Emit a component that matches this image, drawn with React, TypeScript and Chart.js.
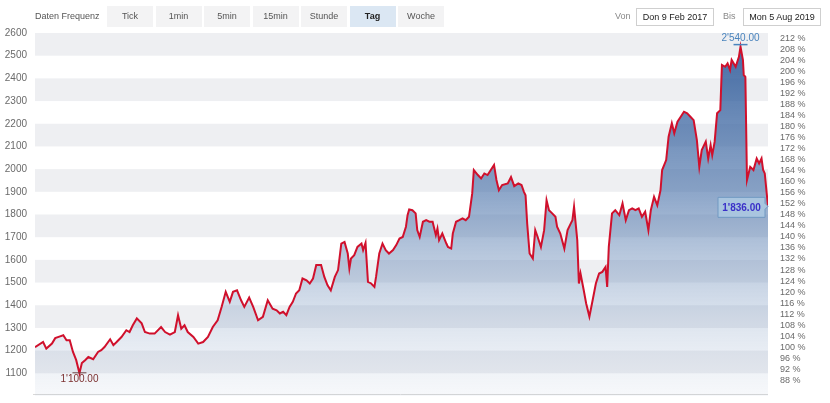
import { useEffect, useRef } from 'react';
import { Chart, registerables } from 'chart.js';

Chart.register(...registerables);

// ---------- data ----------
const frequencies = ['Tick', '1min', '5min', '15min', 'Stunde', 'Tag', 'Woche'];
const activeFrequency = 'Tag';
const fromLabel = 'Von';
const fromDate = 'Don 9 Feb 2017';
const toLabel = 'Bis';
const toDate = 'Mon 5 Aug 2019';
const frequencyLabel = 'Daten Frequenz';

const totalDays = 907; // 9 Feb 2017 -> 5 Aug 2019

const dayOffsets = [
  0, 10, 14, 21, 25, 31, 35, 39, 43, 47, 51, 55, 58, 62, 66, 72, 78, 82, 86, 93,
  97, 101, 107, 113, 117, 121, 126, 132, 136, 142, 148, 156, 161, 167, 173, 177, 181, 185, 189, 196,
  202, 208, 214, 220, 226, 231, 236, 241, 245, 250, 255, 259, 265, 270, 276, 282, 288, 294, 299, 303,
  307, 311, 315, 319, 323, 327, 331, 336, 340, 344, 348, 354, 358, 362, 366, 371, 375, 379, 383, 387,
  389, 391, 395, 399, 404, 406, 409, 412, 416, 420, 422, 426, 430, 434, 438, 443, 447, 451, 455, 459,
  461, 463, 467, 471, 473, 476, 480, 484, 488, 492, 496, 498, 500, 504, 509, 511, 515, 517, 521, 525,
  529, 533, 537, 541, 543, 548, 552, 556, 560, 564, 568, 571, 574, 578, 585, 589, 593, 598, 602, 605,
  607, 609, 612, 616, 619, 622, 626, 630, 633, 636, 640, 644, 646, 650, 655, 659, 663, 665, 667, 671,
  673, 675, 679, 682, 686, 690, 694, 698, 702, 706, 708, 710, 714, 718, 723, 727, 731, 735, 739, 743,
  747, 751, 755, 759, 762, 766, 770, 774, 776, 781, 784, 788, 791, 795, 799, 803, 807, 811, 815, 819,
  822, 825, 830, 833, 836, 838, 841, 844, 848, 850, 854, 857, 860, 862, 867, 871, 873, 876, 877, 879,
  881, 885, 889, 893, 896, 899, 901, 903, 907,
];

const prices = [
  1215, 1238, 1209, 1231, 1255, 1263, 1268, 1246, 1246, 1194, 1158, 1100, 1145, 1158, 1172, 1162, 1194, 1202, 1216, 1250,
  1224, 1238, 1260, 1290, 1282, 1312, 1342, 1320, 1282, 1275, 1275, 1304, 1282, 1271, 1282, 1356, 1297, 1312, 1282, 1260,
  1231, 1238, 1260, 1304, 1334, 1393, 1459, 1415, 1459, 1466, 1422, 1393, 1434, 1393, 1334, 1349, 1422, 1385, 1378, 1364,
  1371, 1356, 1393, 1415, 1452, 1466, 1518, 1510, 1496, 1518, 1577, 1577, 1525, 1488, 1466, 1525, 1555, 1672, 1679, 1628,
  1562, 1606, 1621, 1657, 1672, 1643, 1675, 1503, 1496, 1481, 1525, 1628, 1672, 1643, 1628, 1643, 1665, 1694, 1701, 1746,
  1797, 1822, 1819, 1805, 1731, 1701, 1768, 1775, 1768, 1768, 1709, 1738, 1687, 1716, 1672, 1657, 1650, 1716, 1768, 1775,
  1783, 1775, 1790, 1893, 1996, 1974, 1959, 1981, 1974, 1996, 2018, 1952, 1907, 1930, 1937, 1965, 1925, 1937, 1930, 1900,
  1885, 1761, 1628, 1606, 1731, 1701, 1657, 1731, 1863, 1819, 1805, 1790, 1746, 1716, 1650, 1731, 1761, 1775, 1834, 1687,
  1496, 1540, 1466, 1408, 1350, 1422, 1496, 1540, 1547, 1569, 1481, 1657, 1805, 1819, 1797, 1849, 1775, 1819, 1827, 1819,
  1827, 1790, 1812, 1731, 1819, 1878, 1841, 1907, 1996, 2040, 2143, 2202, 2158, 2209, 2231, 2253, 2246, 2231, 2216, 2128,
  2010, 2084, 2121, 2047, 2106, 2062, 2121, 2246, 2260, 2459, 2451, 2466, 2437, 2481, 2451, 2495, 2540, 2481, 2415, 2407,
  1952, 2010, 1996, 2047, 2025, 2047, 1996, 1981, 1836,
];

const priceMin = 1000;
const priceMax = 2600;
const priceTicks = [1100, 1200, 1300, 1400, 1500, 1600, 1700, 1800, 1900, 2000, 2100, 2200, 2300, 2400, 2500, 2600];
const bandRanges = [
  [2500, 2600], [2300, 2400], [2100, 2200], [1900, 2000],
  [1700, 1800], [1500, 1600], [1300, 1400], [1100, 1200],
];
const percentTicks = [
  88, 92, 96, 100, 104, 108, 112, 116, 120, 124, 128, 132, 136, 140, 144, 148,
  152, 156, 160, 164, 168, 172, 176, 180, 184, 188, 192, 196, 200, 204, 208, 212,
];

// ---------- helpers ----------
const swiss = (v: number) => {
  const [i, d] = v.toFixed(2).split('.');
  return i.replace(/\B(?=(\d{3})+(?!\d))/g, "'") + '.' + d;
};

const FONT = '"Liberation Sans", Arial, Helvetica, sans-serif';

const bandsPlugin = {
  id: 'bands',
  beforeDatasetsDraw(chart: any) {
    const { ctx, chartArea, scales } = chart;
    const y = scales.y;
    ctx.save();
    ctx.fillStyle = '#eeeff2';
    for (const [lo, hi] of bandRanges) {
      const yt = y.getPixelForValue(hi);
      const yb = y.getPixelForValue(lo);
      ctx.fillRect(chartArea.left, yt, chartArea.right - chartArea.left, yb - yt);
    }
    ctx.strokeStyle = '#d8d8d8';
    ctx.lineWidth = 1;
    ctx.beginPath();
    const by = Math.round(chartArea.bottom) - 1.5;
    ctx.moveTo(chartArea.left - 2, by);
    ctx.lineTo(chartArea.right, by);
    ctx.stroke();
    ctx.restore();
  },
};

const annotationsPlugin = {
  id: 'annos',
  afterDatasetsDraw(chart: any) {
    const { ctx, scales } = chart;
    const xs = scales.x;
    const ys = scales.y;
    let maxI = 0;
    let minI = 0;
    prices.forEach((p, i) => {
      if (p > prices[maxI]) maxI = i;
      if (p < prices[minI]) minI = i;
    });
    ctx.save();
    ctx.font = `10px ${FONT}`;
    ctx.textAlign = 'center';
    ctx.textBaseline = 'middle';

    // max
    const mx = xs.getPixelForValue(dayOffsets[maxI]);
    const my = ys.getPixelForValue(prices[maxI]);
    ctx.fillStyle = '#4a84bd';
    ctx.fillText(swiss(prices[maxI]), mx, my - 8);
    ctx.strokeStyle = '#4a84bd';
    ctx.lineWidth = 1.5;
    ctx.beginPath();
    ctx.moveTo(mx - 7, my - 2);
    ctx.lineTo(mx + 7, my - 2);
    ctx.stroke();

    // min
    const nx = xs.getPixelForValue(dayOffsets[minI]);
    const ny = ys.getPixelForValue(prices[minI]);
    ctx.fillStyle = '#7c3030';
    ctx.fillText(swiss(prices[minI]), nx, ny + 6);
    ctx.strokeStyle = '#6a4040';
    ctx.lineWidth = 1;
    ctx.beginPath();
    ctx.moveTo(nx - 7, ny - 0.5);
    ctx.lineTo(nx + 7, ny - 0.5);
    ctx.stroke();

    // last value box
    const li = prices.length - 1;
    const lx = xs.getPixelForValue(dayOffsets[li]);
    const ly = ys.getPixelForValue(prices[li]);
    const bw = 47;
    const bh = 20;
    const right = lx - 3;
    const left = right - bw;
    const top = ly - 9;
    ctx.beginPath();
    ctx.moveTo(left, top);
    ctx.lineTo(right, top);
    ctx.lineTo(right, ly - 3);
    ctx.lineTo(lx, ly);
    ctx.lineTo(right, ly + 3);
    ctx.lineTo(right, top + bh);
    ctx.lineTo(left, top + bh);
    ctx.closePath();
    ctx.fillStyle = '#a9c5df';
    ctx.fill();
    ctx.strokeStyle = '#7099c2';
    ctx.lineWidth = 1;
    ctx.stroke();
    ctx.fillStyle = '#3a30c8';
    ctx.font = `bold 10px ${FONT}`;
    ctx.fillText(swiss(prices[li]), (left + right) / 2, top + bh / 2 + 0.5);
    ctx.restore();
  },
};

// ---------- component ----------
export default function App() {
  const canvasRef = useRef<HTMLCanvasElement | null>(null);

  useEffect(() => {
    const canvas = canvasRef.current;
    if (!canvas) return;
    const base = prices[0];
    const chart = new Chart(canvas, {
      type: 'line',
      data: {
        datasets: [
          {
            data: dayOffsets.map((d, i) => ({ x: d, y: prices[i] })),
            borderColor: '#d0102c',
            borderWidth: 2,
            pointRadius: 0,
            tension: 0,
            fill: 'start',
            backgroundColor: (c: any) => {
              const area = c.chart.chartArea;
              if (!area) return 'rgba(80,120,170,0.4)';
              const g = c.chart.ctx.createLinearGradient(0, area.top, 0, area.bottom);
              g.addColorStop(0, 'rgba(40,85,150,0.9)');
              g.addColorStop(0.45, 'rgba(75,115,170,0.62)');
              g.addColorStop(0.8, 'rgba(120,150,190,0.25)');
              g.addColorStop(1, 'rgba(150,170,200,0.08)');
              return g;
            },
            yAxisID: 'y',
          },
        ],
      },
      options: {
        responsive: false,
        animation: false,
        maintainAspectRatio: false,
        layout: { padding: { top: 33, bottom: 7, left: 0, right: 0 } },
        plugins: { legend: { display: false }, tooltip: { enabled: false } },
        scales: {
          x: { type: 'linear', min: 0, max: totalDays, display: false },
          y: {
            type: 'linear',
            position: 'left',
            min: priceMin,
            max: priceMax,
            afterBuildTicks: (s: any) => {
              s.ticks = priceTicks.map((v) => ({ value: v }));
            },
            afterFit: (s: any) => {
              s.width = 35;
              s.paddingTop = 0;
              s.paddingBottom = 0;
            },
            grid: { display: false, drawTicks: false },
            border: { display: false },
            ticks: {
              padding: 8,
              color: '#6a6a6a',
              font: { size: 10, family: FONT },
              autoSkip: false,
              callback: (v: any) => String(v),
            },
          },
          y2: {
            type: 'linear',
            position: 'right',
            min: (priceMin / base) * 100,
            max: (priceMax / base) * 100,
            afterBuildTicks: (s: any) => {
              s.ticks = percentTicks.map((v) => ({ value: v }));
            },
            afterFit: (s: any) => {
              s.width = 62;
              s.paddingTop = 0;
              s.paddingBottom = 0;
            },
            grid: { display: false, drawTicks: false },
            border: { display: false },
            ticks: {
              padding: 12,
              color: '#6a6a6a',
              font: { size: 9, family: FONT },
              autoSkip: false,
              callback: (v: any) => `${v} %`,
            },
          },
        },
      },
      plugins: [bandsPlugin, annotationsPlugin],
    });
    return () => chart.destroy();
  }, []);

  const btnStart = 107;
  const btnStep = 48.5;
  const btnW = 46;

  return (
    <div
      style={{
        position: 'fixed',
        left: 0,
        top: 0,
        width: 830,
        height: 403,
        background: '#fff',
        fontFamily: FONT,
        overflow: 'hidden',
      }}
    >
      <canvas ref={canvasRef} width={830} height={403} style={{ position: 'absolute', left: 0, top: 0, width: 830, height: 403 }} />
      <div style={{ position: 'absolute', left: 35, top: 6, height: 21, lineHeight: '21px', fontSize: 9, color: '#555' }}>
        {frequencyLabel}
      </div>
      {frequencies.map((f, i) => {
        const active = f === activeFrequency;
        return (
          <div
            key={f}
            style={{
              position: 'absolute',
              left: btnStart + i * btnStep,
              top: 6,
              width: btnW,
              height: 21,
              lineHeight: '21px',
              textAlign: 'center',
              fontSize: 9,
              background: active ? '#dbe7f3' : '#f3f3f4',
              color: active ? '#222' : '#555',
              fontWeight: active ? 'bold' : 'normal',
            }}
          >
            {f}
          </div>
        );
      })}
      <div style={{ position: 'absolute', left: 615, top: 8, height: 17, lineHeight: '17px', fontSize: 9, color: '#888' }}>
        {fromLabel}
      </div>
      <div
        style={{
          position: 'absolute',
          left: 636,
          top: 8,
          width: 76,
          height: 16,
          lineHeight: '16px',
          border: '1px solid #cfcfcf',
          fontSize: 9,
          color: '#222',
          textAlign: 'center',
        }}
      >
        {fromDate}
      </div>
      <div style={{ position: 'absolute', left: 723, top: 8, height: 17, lineHeight: '17px', fontSize: 9, color: '#888' }}>
        {toLabel}
      </div>
      <div
        style={{
          position: 'absolute',
          left: 743,
          top: 8,
          width: 76,
          height: 16,
          lineHeight: '16px',
          border: '1px solid #cfcfcf',
          fontSize: 9,
          color: '#222',
          textAlign: 'center',
        }}
      >
        {toDate}
      </div>
    </div>
  );
}
